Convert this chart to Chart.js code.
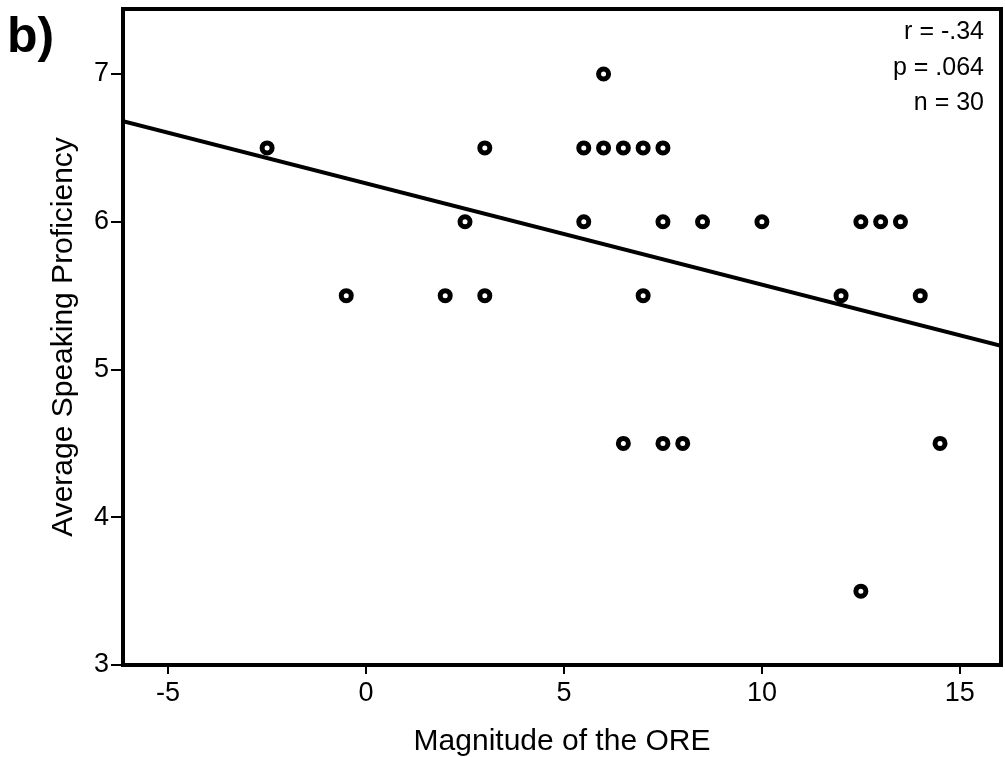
<!DOCTYPE html>
<html>
<head>
<meta charset="utf-8">
<script src="https://cdn.jsdelivr.net/npm/chart.js@4/dist/chart.umd.min.js"></script>
<style>
  html, body { margin: 0; padding: 0; background: #fff; }
  #wrap { width: 1005px; height: 757px; }
</style>
</head>
<body>
<div id="wrap"><canvas id="scatter"></canvas></div>
<script>
// data
var oreX = [-2.5, -0.5, 2, 2.5, 3, 3, 5.5, 5.5, 6, 6, 6.5, 7, 7.5, 7.5, 7, 6.5, 7.5, 8, 8.5, 10, 12, 12.5, 13, 13.5, 14, 14.5, 12.5];
var speakY = [6.5, 5.5, 5.5, 6, 6.5, 5.5, 6.5, 6, 7, 6.5, 6.5, 6.5, 6.5, 6, 5.5, 4.5, 4.5, 4.5, 6, 6, 5.5, 6, 6, 6, 5.5, 4.5, 3.5];
var fitX = [-6.14, 16.04];
var fitY = [6.68, 5.16];
var xTicks = [-5, 0, 5, 10, 15];
var yTicks = [3, 4, 5, 6, 7];
var statsLines = ['r = -.34', 'p = .064', 'n = 30'];

var FONT = 'Liberation Sans, Arial, sans-serif';

var pts = oreX.map(function (x, i) { return { x: x, y: speakY[i] }; });
var fitPts = fitX.map(function (x, i) { return { x: x, y: fitY[i] }; });

function noPad(s) {
    s.paddingLeft = 0; s.paddingRight = 0; s.paddingTop = 0; s.paddingBottom = 0;
}

var framePlugin = {
    id: 'frame',
    afterDraw: function (chart) {
        var c = chart.ctx, a = chart.chartArea;
        c.save();
        c.strokeStyle = '#000';
        c.lineWidth = 4;
        c.strokeRect(a.left, a.top, a.right - a.left, a.bottom - a.top);
        c.fillStyle = '#000';
        c.font = 'bold 50px ' + FONT;
        c.textAlign = 'left';
        c.textBaseline = 'alphabetic';
        c.fillText('b)', 7, 52);
        c.font = '25px ' + FONT;
        c.textAlign = 'right';
        statsLines.forEach(function (t, i) {
            c.fillText(t, 984, 39 + i * 35.5);
        });
        c.restore();
    }
};

var ctx = document.getElementById('scatter').getContext('2d');
var chart = new Chart(ctx, {
    type: 'scatter',
    data: {
        datasets: [{
            label: 'points',
            data: pts,
            pointRadius: 5,
            pointBorderWidth: 5,
            pointBackgroundColor: '#fff',
            pointBorderColor: '#000'
        }, {
            type: 'line',
            label: 'fit',
            data: fitPts,
            borderColor: '#000',
            borderWidth: 4,
            pointRadius: 0,
            fill: false
        }]
    },
    plugins: [framePlugin],
    options: {
        responsive: true,
        maintainAspectRatio: false,
        animation: false,
        layout: { autoPadding: false, padding: { top: 9, right: 4, left: 0, bottom: 0 } },
        plugins: { legend: { display: false }, tooltip: { enabled: false } },
        scales: {
            x: {
                type: 'linear',
                min: fitX[0],
                max: fitX[1],
                afterBuildTicks: function (s) { s.ticks = xTicks.map(function (v) { return { value: v }; }); },
                afterFit: function (s) { s.height = 92; noPad(s); },
                grid: { drawOnChartArea: false, tickLength: 9, lineWidth: 2, color: '#000' },
                border: { display: true, width: 4, color: '#000' },
                ticks: { color: '#000', font: { family: FONT, size: 27 }, padding: 3 },
                title: { display: true, text: 'Magnitude of the ORE', color: '#000', font: { family: FONT, size: 30 }, padding: { top: 4, bottom: -3 } }
            },
            y: {
                type: 'linear',
                min: 3,
                max: 7.44,
                afterBuildTicks: function (s) { s.ticks = yTicks.map(function (v) { return { value: v }; }); },
                afterFit: function (s) { s.width = 123; noPad(s); },
                grid: { drawOnChartArea: false, tickLength: 12, lineWidth: 2, color: '#000' },
                border: { display: true, width: 4, color: '#000' },
                ticks: { color: '#000', font: { family: FONT, size: 27 }, padding: 2 },
                title: { display: true, text: 'Average Speaking Proficiency', color: '#000', font: { family: FONT, size: 30 }, padding: { top: 46, bottom: 14 } }
            }
        }
    }
});
</script>
</body>
</html>
